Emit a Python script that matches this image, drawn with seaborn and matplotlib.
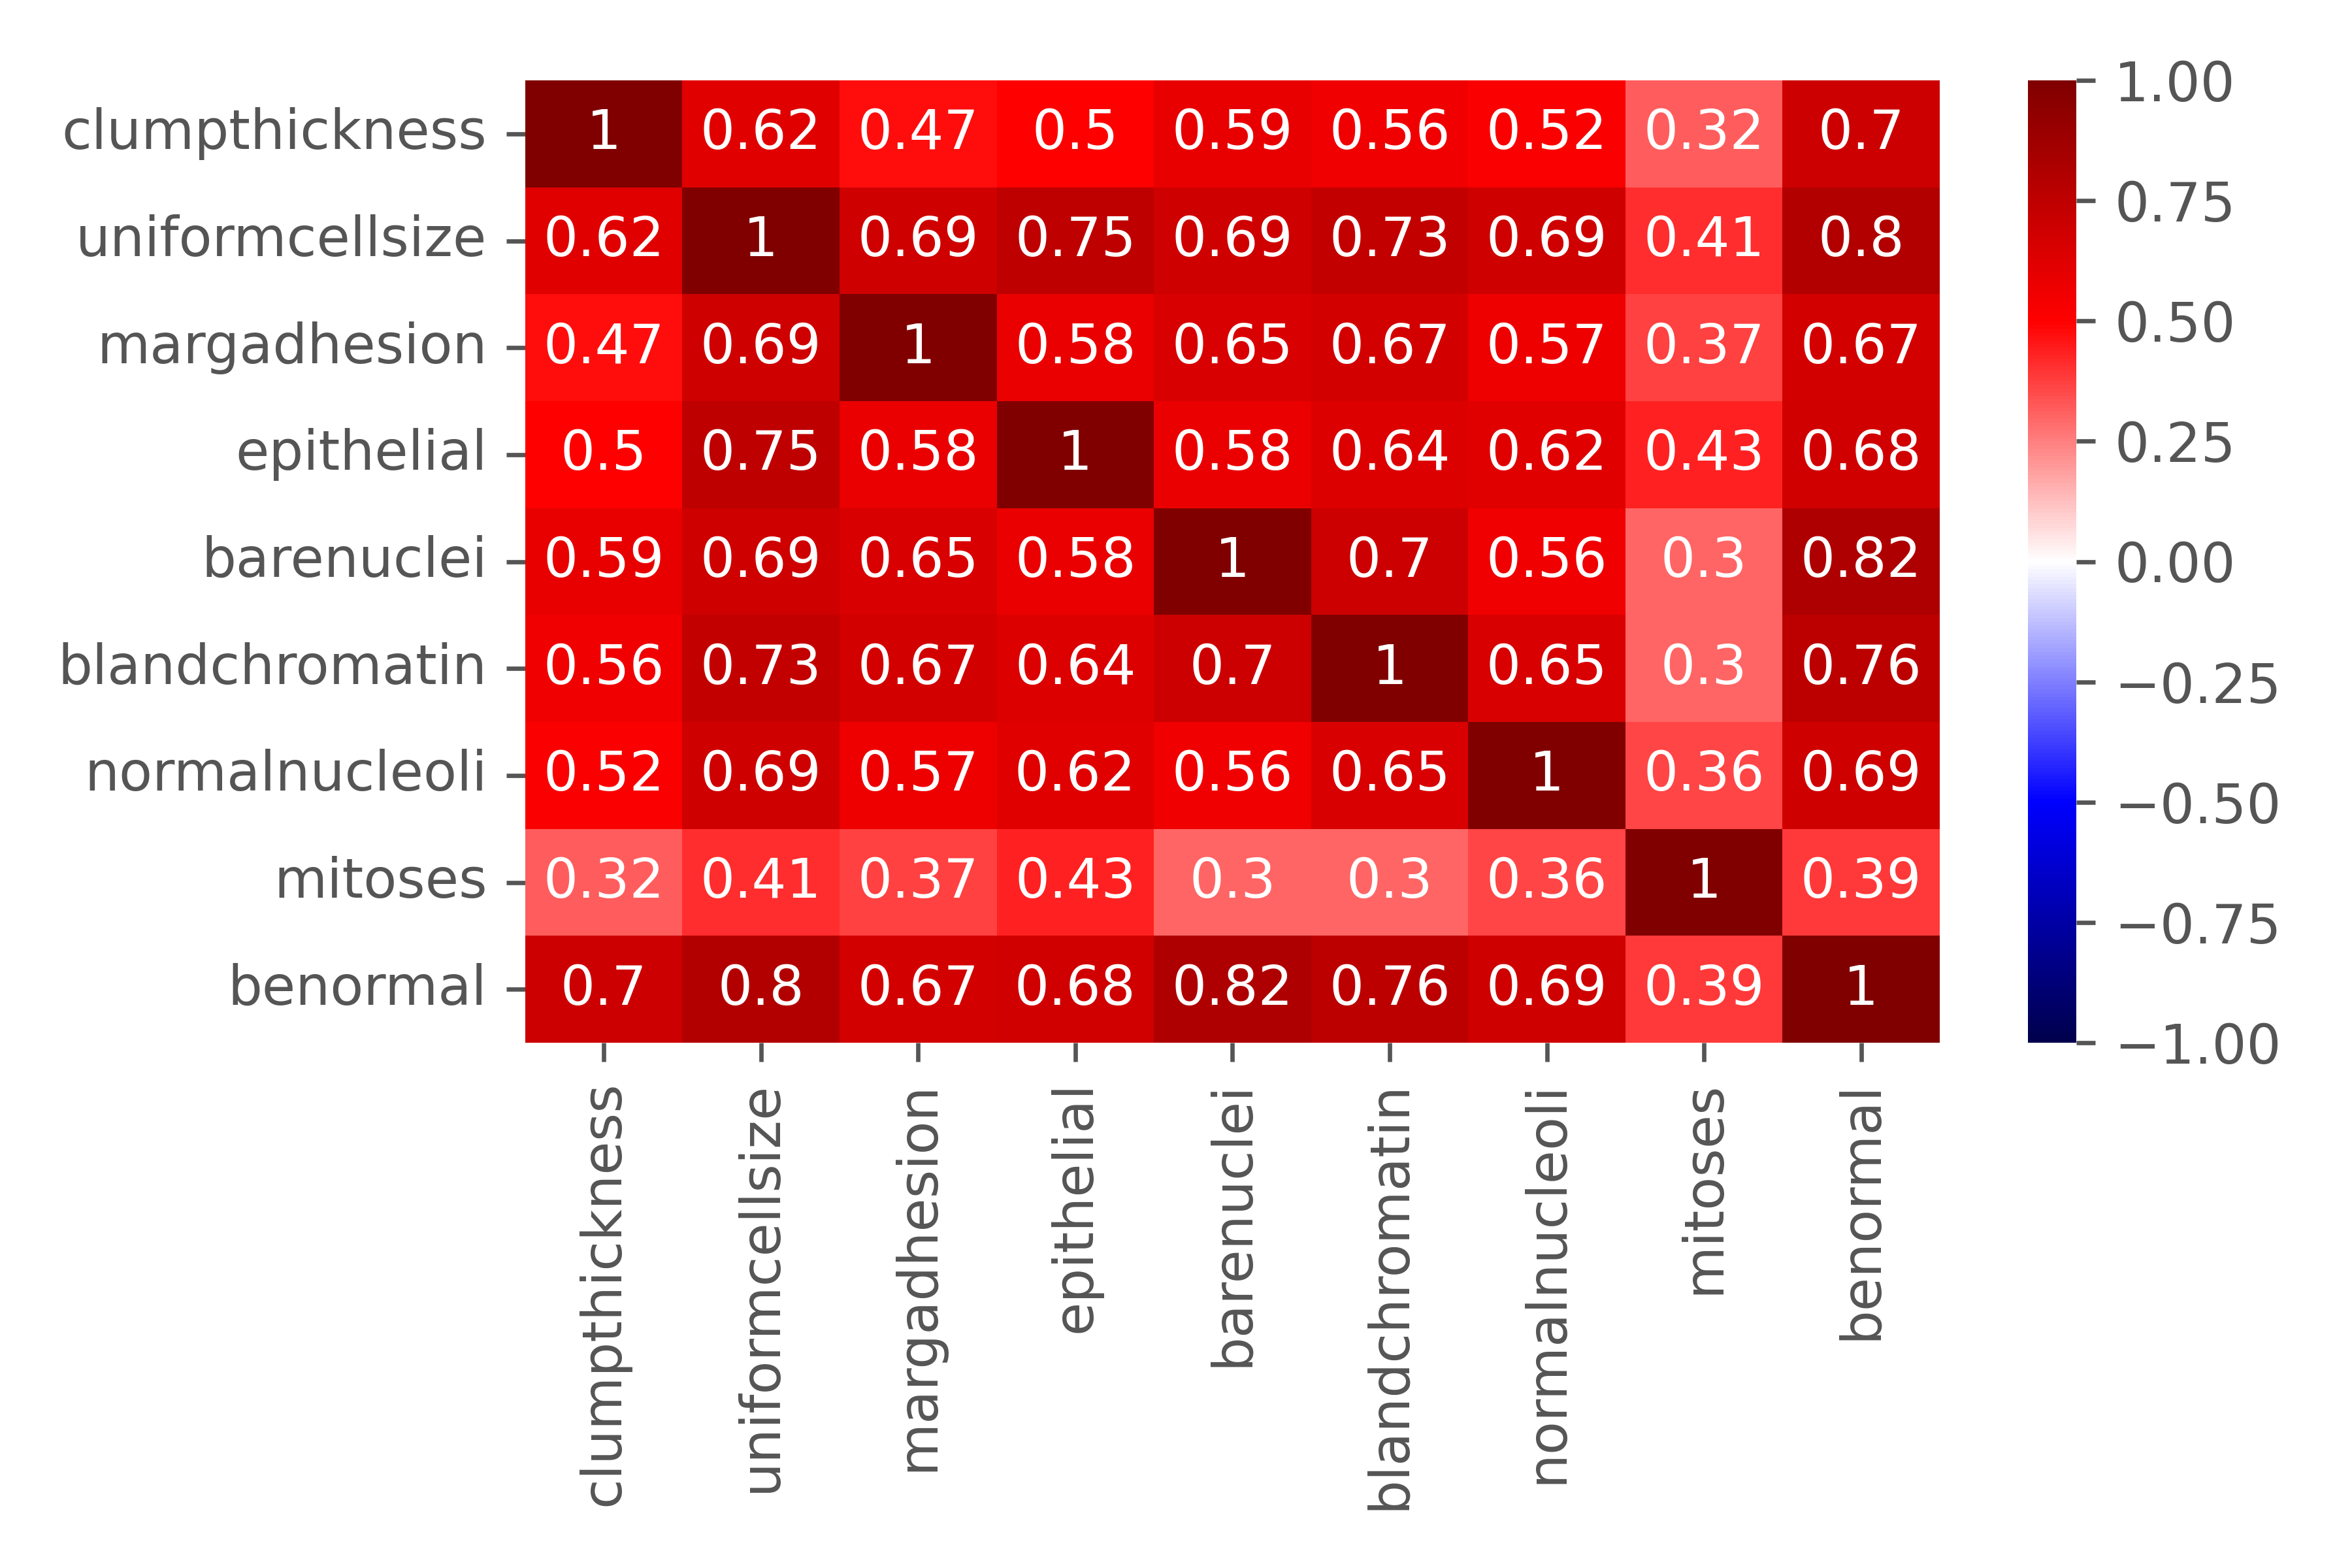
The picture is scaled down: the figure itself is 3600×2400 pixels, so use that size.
import numpy as np
import pandas as pd
import seaborn as sns
import matplotlib
import matplotlib.pyplot as plt

matplotlib.use('Agg')

# Признаки
features = ['clumpthickness', 'uniformcellsize', 'margadhesion', 'epithelial',
            'barenuclei', 'blandchromatin', 'normalnucleoli', 'mitoses', 'benormal']

# Корреляции по строкам
clumpthickness = [1, 0.62, 0.47, 0.5, 0.59, 0.56, 0.52, 0.32, 0.7]
uniformcellsize = [0.62, 1, 0.69, 0.75, 0.69, 0.73, 0.69, 0.41, 0.8]
margadhesion = [0.47, 0.69, 1, 0.58, 0.65, 0.67, 0.57, 0.37, 0.67]
epithelial = [0.5, 0.75, 0.58, 1, 0.58, 0.64, 0.62, 0.43, 0.68]
barenuclei = [0.59, 0.69, 0.65, 0.58, 1, 0.7, 0.56, 0.3, 0.82]
blandchromatin = [0.56, 0.73, 0.67, 0.64, 0.7, 1, 0.65, 0.3, 0.76]
normalnucleoli = [0.52, 0.69, 0.57, 0.62, 0.56, 0.65, 1, 0.36, 0.69]
mitoses = [0.32, 0.41, 0.37, 0.43, 0.3, 0.3, 0.36, 1, 0.39]
benormal = [0.7, 0.8, 0.67, 0.68, 0.82, 0.76, 0.69, 0.39, 1]

corr = pd.DataFrame([clumpthickness, uniformcellsize, margadhesion, epithelial,
                     barenuclei, blandchromatin, normalnucleoli, mitoses, benormal],
                    index=features, columns=features)

plt.style.use('ggplot')

fig = plt.figure(figsize=(6, 4), dpi=600)
ax = fig.add_axes([0.2233, 0.335, 0.6014, 0.61375])
cax = fig.add_axes([0.8622, 0.335, 0.02056, 0.61375])

sns.heatmap(corr, annot=True, cmap='seismic', vmin=-1, vmax=1,
            ax=ax, cbar_ax=cax, annot_kws={'size': 10})
ax.grid(False)
ax.set_xticklabels(features, rotation=90)
ax.set_yticklabels(features, rotation=0)
ax.tick_params(colors='#555555', labelsize=10)
cax.tick_params(colors='#555555', labelsize=10)

plt.savefig('out.png', dpi=600)
